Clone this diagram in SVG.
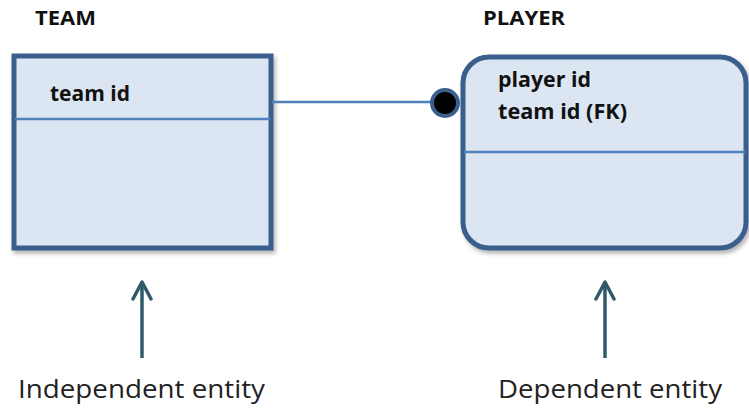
<svg xmlns="http://www.w3.org/2000/svg" width="749" height="408" viewBox="0 0 749 408">
<style>
.title{font-family:"Open Sans","Liberation Sans",sans-serif;font-weight:bold;font-size:20px;fill:#111}
.attr{font-family:"Open Sans","Liberation Sans",sans-serif;font-weight:bold;font-size:21px;fill:#111}
.cap{font-family:"Open Sans","Liberation Sans",sans-serif;font-size:26px;fill:#222}
.box{fill:#dce6f2;stroke:#3b5f8c;stroke-width:5}
.div{stroke:#4f81bd;stroke-width:2.5}
.conn{stroke:#4f81bd;stroke-width:2.5;fill:none}
.arrow{stroke:#2e5a6a;stroke-width:3.5;fill:none}
</style>
<defs>
<filter id="sh" x="-10%" y="-10%" width="120%" height="120%">
<feDropShadow dx="2" dy="3" stdDeviation="2" flood-color="#000" flood-opacity="0.3"/>
</filter>
<marker id="ah" viewBox="0 0 22 22" refX="19" refY="11" markerWidth="22" markerHeight="22" markerUnits="userSpaceOnUse" orient="auto">
<path d="M2 2 L19 11 L2 20" fill="none" stroke="#2e5a6a" stroke-width="3.5" stroke-linejoin="round" stroke-linecap="round"/>
</marker>
</defs>
<g id="team">
<text class="title" x="35" y="25" textLength="61" lengthAdjust="spacingAndGlyphs">TEAM</text>
<rect class="box" x="14" y="56" width="257" height="192" filter="url(#sh)"/>
<line class="div" x1="15" y1="119" x2="270" y2="119"/>
<text class="attr" x="50" y="101" textLength="80" lengthAdjust="spacingAndGlyphs">team id</text>
</g>
<g id="player">
<text class="title" x="483" y="25" textLength="82" lengthAdjust="spacingAndGlyphs">PLAYER</text>
<rect class="box" x="463" y="57" width="283" height="191" rx="26" ry="26" filter="url(#sh)"/>
<line class="div" x1="464" y1="152" x2="745" y2="152"/>
<text class="attr" x="498" y="87" textLength="93" lengthAdjust="spacingAndGlyphs">player id</text>
<text class="attr" x="498" y="119" textLength="129" lengthAdjust="spacingAndGlyphs">team id (FK)</text>
</g>
<g id="connectors">
<line class="conn" x1="272" y1="102" x2="432" y2="102"/>
<circle cx="445" cy="103" r="13" fill="#000" stroke="#3b5f8c" stroke-width="4"/>
<line class="arrow" x1="142" y1="358" x2="142" y2="282" marker-end="url(#ah)"/>
<line class="arrow" x1="605" y1="358" x2="605" y2="282" marker-end="url(#ah)"/>
</g>
<g id="captions">
<text class="cap" x="18" y="398" textLength="247" lengthAdjust="spacingAndGlyphs">Independent entity</text>
<text class="cap" x="498" y="398" textLength="224" lengthAdjust="spacingAndGlyphs">Dependent entity</text>
</g>
</svg>
